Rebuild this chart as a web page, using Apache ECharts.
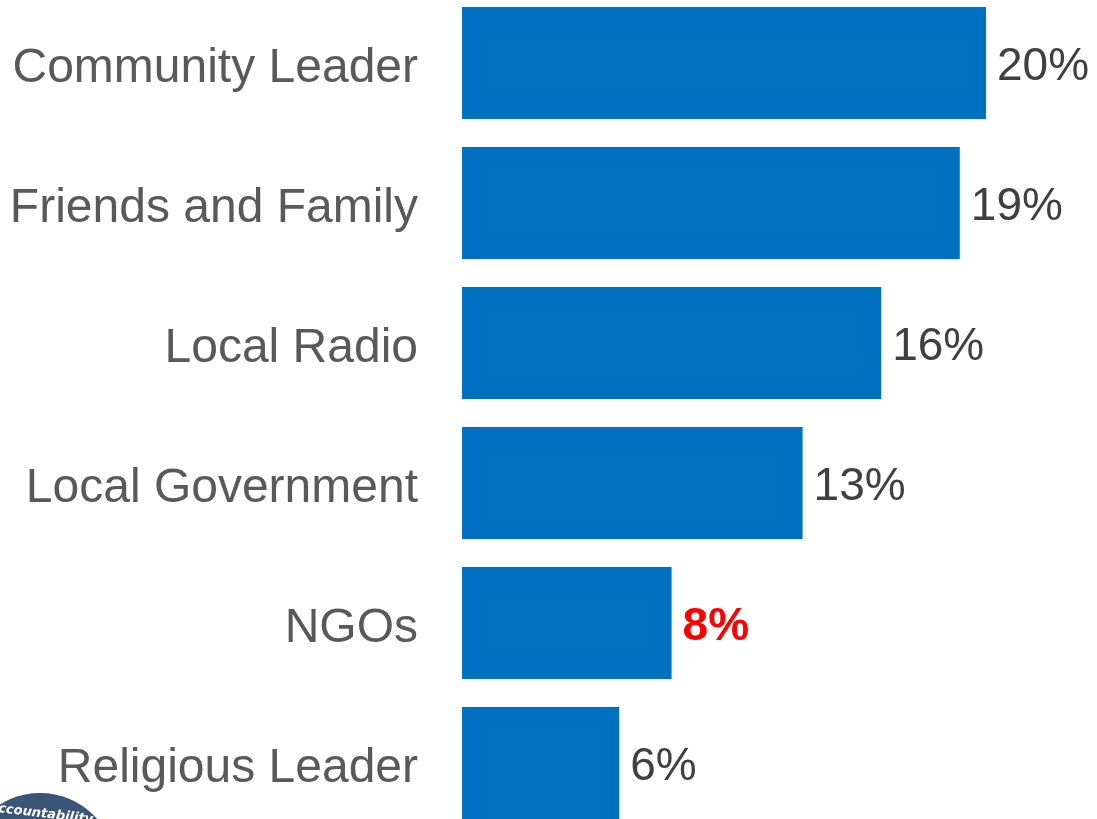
<!DOCTYPE html>
<html>
<head>
<meta charset="utf-8">
<script src="https://cdn.jsdelivr.net/npm/echarts@6/dist/echarts.min.js"></script>
<style>
  html, body { margin: 0; padding: 0; background: #fff; overflow: hidden; width: 1097px; height: 819px; }
  /* the plot extends a little past the top and bottom edges of the page */
  #chart { position: absolute; left: 0; top: -7px; width: 1097px; height: 840px; }
</style>
</head>
<body>
<div id="chart"></div>
<script>
// Sources of information, share of respondents (%)
const categories = ['Community Leader', 'Friends and Family', 'Local Radio', 'Local Government', 'NGOs', 'Religious Leader'];
const values = [20, 19, 16, 13, 8, 6];
const highlighted = ['NGOs'];

const chart = echarts.init(document.getElementById('chart'));

const barData = values.map((v, i) => {
  const hot = highlighted.includes(categories[i]);
  return {
    value: v,
    label: hot ? { color: '#FF0000', fontWeight: 'bold' } : {}
  };
});

chart.setOption({
  animation: false,
  backgroundColor: '#ffffff',
  textStyle: { fontFamily: 'Liberation Sans, Arial, sans-serif' },
  grid: { left: 462, right: 111, top: 0, bottom: 0, containLabel: false },
  xAxis: {
    type: 'value',
    min: 0,
    max: 20,
    show: false
  },
  yAxis: {
    type: 'category',
    inverse: true,
    data: categories,
    axisLine: { show: false },
    axisTick: { show: false },
    splitLine: { show: false },
    axisLabel: {
      margin: 44,
      formatter: v => '{name|' + v + '}',
      rich: {
        name: {
          fontSize: 48,
          color: '#595959',
          padding: [12, 0, 0, 0],
          fontFamily: 'Liberation Sans, Arial, sans-serif'
        }
      }
    }
  },
  series: [{
    type: 'bar',
    data: barData,
    barCategoryGap: '20%',
    itemStyle: { color: '#0070C0' },
    label: {
      show: true,
      position: 'right',
      distance: 11,
      offset: [0, 4],
      fontSize: 46,
      color: '#404040',
      fontFamily: 'Liberation Sans, Arial, sans-serif',
      formatter: p => p.value + '%'
    }
  }],
  graphic: [
    {
      type: 'circle',
      shape: { cx: 40, cy: 876, r: 76 },
      style: { fill: '#3B5577' },
      silent: true
    },
    {
      type: 'text',
      left: -12,
      top: 808,
      rotation: -0.12,
      style: {
        text: 'Accountability',
        fill: '#ffffff',
        font: 'bold italic 13px "DejaVu Sans", sans-serif'
      },
      silent: true
    }
  ]
});
</script>
</body>
</html>
